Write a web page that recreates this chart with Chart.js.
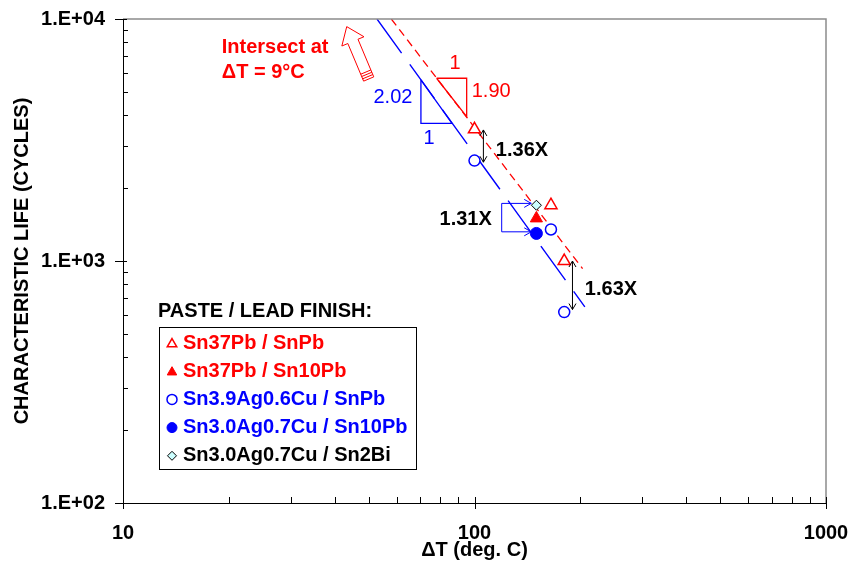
<!DOCTYPE html>
<html>
<head>
<meta charset="utf-8">
<script src="https://cdn.jsdelivr.net/npm/chart.js@4.4.1/dist/chart.umd.min.js"></script>
<style>
  html, body { margin: 0; padding: 0; background: #fff; }
  #wrap { width: 853px; height: 578px; }
</style>
</head>
<body>
<div id="wrap"><canvas id="chart"></canvas></div>
<script>
// axis ticks
const xTicks = [10, 100, 1000];
const yTicks = [100, 1000, 10000];
const yTickLabels = ["1.E+02", "1.E+03", "1.E+04"];

// measured characteristic life vs delta T
const snpbOpenX = [100, 165, 180];
const snpbOpenY = [3500, 1700, 1000];
const snpbFilledX = [150];
const snpbFilledY = [1500];
const sacOpenX = [100, 165, 180];
const sacOpenY = [2600, 1350, 615];
const sacFilledX = [150];
const sacFilledY = [1300];
const sacBiX = [150];
const sacBiY = [1700];

// fitted lines (end points)
const snpbFitX = [58, 203];
const snpbFitY = [10000, 930];
const sacFitX = [52.8, 206];
const sacFitY = [10000, 646];

// slope triangles
const snpbTriX = [78, 95, 95, 78];
const snpbTriY = [5690, 5690, 3950, 5690];
const sacTriX = [70.4, 70.4, 86.3, 70.4];
const sacTriY = [5600, 3702, 3702, 5600];

// ratio arrows and the "intersect" arrow
const ratio136X = [106, 106];
const ratio136Y = [3480, 2560];
const ratio163X = [190, 190];
const ratio163Y = [1000, 630];
const bracket131X = [145, 119.5, 119.5, 145];
const bracket131Y = [1730, 1730, 1320, 1320];
const intersectArrowX = [50, 43.3];
const intersectArrowY = [5650, 9300];

const RED = "#ff0000";
const BLUE = "#0000ff";
const FONT = "'Liberation Sans', Arial, Helvetica, sans-serif";

const pts = (xs, ys) => xs.map((x, i) => ({ x, y: ys[i] }));

function lineSet(xs, ys, color, width, dash) {
    return {
        data: pts(xs, ys),
        showLine: true,
        borderColor: color,
        borderWidth: width,
        borderDash: dash,
        pointRadius: 0,
        fill: false,
        tension: 0,
    };
}

const datasets = [
    {
        label: "Sn37Pb / SnPb",
        data: pts(snpbOpenX, snpbOpenY),
        pointStyle: "triangle",
        pointRadius: 7,
        borderColor: RED,
        backgroundColor: "#ffffff",
        pointBorderWidth: 1.5,
        textColor: RED,
    },
    {
        label: "Sn37Pb / Sn10Pb",
        data: pts(snpbFilledX, snpbFilledY),
        pointStyle: "triangle",
        pointRadius: 7,
        borderColor: RED,
        backgroundColor: RED,
        pointBorderWidth: 1,
        textColor: RED,
    },
    {
        label: "Sn3.9Ag0.6Cu / SnPb",
        data: pts(sacOpenX, sacOpenY),
        pointStyle: "circle",
        pointRadius: 5.5,
        borderColor: BLUE,
        backgroundColor: "#ffffff",
        pointBorderWidth: 1.5,
        textColor: BLUE,
    },
    {
        label: "Sn3.0Ag0.7Cu / Sn10Pb",
        data: pts(sacFilledX, sacFilledY),
        pointStyle: "circle",
        pointRadius: 6,
        borderColor: BLUE,
        backgroundColor: BLUE,
        pointBorderWidth: 1,
        textColor: BLUE,
    },
    {
        label: "Sn3.0Ag0.7Cu / Sn2Bi",
        data: pts(sacBiX, sacBiY),
        pointStyle: "rectRot",
        pointRadius: 5,
        borderColor: "#000000",
        backgroundColor: "#ccffff",
        pointBorderWidth: 1,
        textColor: "#000000",
    },
    lineSet(snpbTriX, snpbTriY, RED, 1.3, []),
    lineSet(sacTriX, sacTriY, BLUE, 1.3, []),
    lineSet(snpbFitX, snpbFitY, RED, 1.3, [8, 5]),
    lineSet(sacFitX, sacFitY, BLUE, 1.4, [42, 14]),
];

function arrowHead(ctx, fx, fy, tx, ty, len, half) {
    const a = Math.atan2(ty - fy, tx - fx);
    ctx.moveTo(tx - len * Math.cos(a) + half * Math.sin(a), ty - len * Math.sin(a) - half * Math.cos(a));
    ctx.lineTo(tx, ty);
    ctx.lineTo(tx - len * Math.cos(a) - half * Math.sin(a), ty - len * Math.sin(a) + half * Math.cos(a));
}

function blockArrow(ctx, tail, tip) {
    const dx = tip.x - tail.x, dy = tip.y - tail.y;
    const len = Math.hypot(dx, dy);
    const ux = dx / len, uy = dy / len;
    const nx = -uy, ny = ux;
    const headLen = 16, headHalf = 12, shaftHalf = 5.5;
    const p = (a, b) => [tail.x + ux * a + nx * b, tail.y + uy * a + ny * b];
    const outline = [
        p(0, -shaftHalf), p(len - headLen, -shaftHalf), p(len - headLen, -headHalf),
        p(len, 0), p(len - headLen, headHalf), p(len - headLen, shaftHalf), p(0, shaftHalf),
    ];
    ctx.beginPath();
    outline.forEach(([x, y], i) => (i ? ctx.lineTo(x, y) : ctx.moveTo(x, y)));
    ctx.closePath();
    ctx.fillStyle = "#ffffff";
    ctx.fill();
    ctx.strokeStyle = RED;
    ctx.lineWidth = 1;
    ctx.stroke();
    ctx.beginPath();
    [2.5, 5, 7.5].forEach((a) => {
        const [x1, y1] = p(a, -shaftHalf);
        const [x2, y2] = p(a, shaftHalf);
        ctx.moveTo(x1, y1);
        ctx.lineTo(x2, y2);
    });
    ctx.stroke();
}

// gray frame plus inside minor ticks and crossing major ticks
const frameAndTicks = {
    id: "frameAndTicks",
    afterDraw(chart) {
        const { ctx, chartArea: a, scales: { x, y } } = chart;
        ctx.save();
        ctx.strokeStyle = "#8c8c8c";
        ctx.lineWidth = 1.5;
        ctx.beginPath();
        ctx.moveTo(a.left, a.top);
        ctx.lineTo(a.right, a.top);
        ctx.lineTo(a.right, a.bottom);
        ctx.stroke();

        ctx.strokeStyle = "#000000";
        ctx.lineWidth = 1;
        ctx.beginPath();
        for (let d = xTicks[0]; d < xTicks[xTicks.length - 1]; d *= 10) {
            for (let m = 2; m <= 9; m++) {
                const px = Math.round(x.getPixelForValue(d * m)) + 0.5;
                ctx.moveTo(px, a.bottom);
                ctx.lineTo(px, a.bottom - 6);
            }
        }
        xTicks.forEach((v) => {
            const px = Math.round(x.getPixelForValue(v)) + 0.5;
            ctx.moveTo(px, a.bottom + 6);
            ctx.lineTo(px, a.bottom - 6);
        });
        for (let d = yTicks[0]; d < yTicks[yTicks.length - 1]; d *= 10) {
            for (let m = 2; m <= 9; m++) {
                const py = Math.round(y.getPixelForValue(d * m)) + 0.5;
                ctx.moveTo(a.left, py);
                ctx.lineTo(a.left + 5, py);
            }
        }
        yTicks.forEach((v) => {
            const py = Math.round(y.getPixelForValue(v)) + 0.5;
            ctx.moveTo(a.left - 8, py);
            ctx.lineTo(a.left + 4, py);
        });
        ctx.stroke();
        ctx.restore();
    },
};

// text notes, ratio arrows, intersect arrow
const notes = [
    { text: "Intersect at", x: 19.1, y: 7590, color: RED, align: "left", bold: true },
    { text: "\u0394T = 9\u00b0C", x: 19.1, y: 5985, color: RED, align: "left", bold: true },
    { text: "2.02", x: 58.6, y: 4760, color: BLUE, align: "center", bold: false },
    { text: "1", x: 74.2, y: 3221, color: BLUE, align: "center", bold: false },
    { text: "1", x: 88, y: 6560, color: RED, align: "center", bold: false },
    { text: "1.90", x: 98.2, y: 5007, color: RED, align: "left", bold: false },
    { text: "1.36X", x: 115, y: 2875, color: "#000000", align: "left", bold: true },
    { text: "1.31X", x: 112, y: 1486, color: "#000000", align: "right", bold: true },
    { text: "1.63X", x: 206, y: 759, color: "#000000", align: "left", bold: true },
];

const annotations = {
    id: "annotations",
    afterDatasetsDraw(chart) {
        const { ctx, scales: { x, y } } = chart;
        const at = (xs, ys, i) => ({ x: x.getPixelForValue(xs[i]), y: y.getPixelForValue(ys[i]) });
        ctx.save();

        ctx.strokeStyle = "#000000";
        ctx.lineWidth = 1;
        [[ratio136X, ratio136Y], [ratio163X, ratio163Y]].forEach(([xs, ys]) => {
            const p0 = at(xs, ys, 0), p1 = at(xs, ys, 1);
            ctx.beginPath();
            ctx.moveTo(p0.x, p0.y);
            ctx.lineTo(p1.x, p1.y);
            arrowHead(ctx, p1.x, p1.y, p0.x, p0.y, 6, 3.5);
            arrowHead(ctx, p0.x, p0.y, p1.x, p1.y, 6, 3.5);
            ctx.stroke();
        });

        ctx.strokeStyle = BLUE;
        ctx.beginPath();
        const b = bracket131X.map((_, i) => at(bracket131X, bracket131Y, i));
        b.forEach((p, i) => (i ? ctx.lineTo(p.x, p.y) : ctx.moveTo(p.x, p.y)));
        arrowHead(ctx, b[1].x, b[1].y, b[0].x, b[0].y, 7, 4);
        arrowHead(ctx, b[2].x, b[2].y, b[3].x, b[3].y, 7, 4);
        ctx.stroke();

        blockArrow(ctx, at(intersectArrowX, intersectArrowY, 0), at(intersectArrowX, intersectArrowY, 1));

        ctx.textBaseline = "middle";
        notes.forEach((n) => {
            ctx.font = `${n.bold ? "bold " : ""}20px ${FONT}`;
            ctx.fillStyle = n.color;
            ctx.textAlign = n.align;
            ctx.fillText(n.text, x.getPixelForValue(n.x), y.getPixelForValue(n.y));
        });
        ctx.restore();
    },
};

// boxed legend below the header line
const legendBox = {
    id: "legendBox",
    afterDraw(chart) {
        const { ctx } = chart;
        ctx.save();
        ctx.font = `bold 20px ${FONT}`;
        ctx.textBaseline = "middle";
        ctx.textAlign = "left";
        ctx.fillStyle = "#000000";
        ctx.fillText("PASTE / LEAD FINISH:", 158, 311);

        ctx.strokeStyle = "#000000";
        ctx.lineWidth = 1;
        ctx.strokeRect(159.5, 327.5, 257, 142);

        chart.data.datasets.slice(0, 5).forEach((ds, i) => {
            const cy = 343 + i * 28.2;
            ctx.fillStyle = ds.backgroundColor;
            ctx.strokeStyle = ds.borderColor;
            ctx.lineWidth = ds.pointBorderWidth;
            const r = ds.pointStyle === "triangle" ? 5.5 : ds.pointStyle === "rectRot" ? 4.5 : 5;
            Chart.helpers.drawPoint(ctx, { pointStyle: ds.pointStyle, radius: r, rotation: 0, borderWidth: ds.pointBorderWidth }, 172, cy + (ds.pointStyle === "triangle" ? 1 : 0));
            ctx.fillStyle = ds.textColor;
            ctx.fillText(ds.label, 183, cy);
        });
        ctx.restore();
    },
};

Chart.defaults.font.family = FONT;
Chart.defaults.color = "#000000";

new Chart(document.getElementById("chart"), {
    type: "scatter",
    data: { datasets },
    options: {
        responsive: true,
        maintainAspectRatio: false,
        animation: false,
        layout: { padding: { top: 19, right: 27, left: 0, bottom: 0 } },
        plugins: {
            legend: { display: false },
            tooltip: { enabled: false },
        },
        scales: {
            x: {
                type: "logarithmic",
                min: 10,
                max: 1000,
                afterBuildTicks: (axis) => { axis.ticks = xTicks.map((v) => ({ value: v })); },
                afterFit: (axis) => {
                    axis.height = 75;
                    axis.paddingLeft = 0;
                    axis.paddingRight = 0;
                },
                grid: { display: false, drawTicks: false },
                border: { display: true, color: "#000000", width: 1 },
                ticks: {
                    autoSkip: false,
                    maxRotation: 0,
                    padding: 18,
                    font: { size: 20, weight: "bold" },
                    callback: (v) => String(v),
                },
                title: {
                    display: true,
                    text: "\u0394T (deg. C)",
                    font: { size: 20, weight: "bold" },
                    padding: { top: 0, bottom: 16 },
                },
            },
            y: {
                type: "logarithmic",
                min: 100,
                max: 10000,
                afterBuildTicks: (axis) => { axis.ticks = yTicks.map((v) => ({ value: v })); },
                afterFit: (axis) => {
                    axis.width = 123;
                    axis.paddingTop = 0;
                    axis.paddingBottom = 0;
                },
                grid: { display: false, drawTicks: false },
                border: { display: true, color: "#000000", width: 1 },
                ticks: {
                    autoSkip: false,
                    padding: 18,
                    font: { size: 20, weight: "bold" },
                    callback: (v) => yTickLabels[yTicks.indexOf(v)] ?? "",
                },
                title: {
                    display: true,
                    text: "CHARACTERISTIC LIFE (CYCLES)",
                    font: { size: 20, weight: "bold" },
                    padding: { top: 10, bottom: 0 },
                },
            },
        },
    },
    plugins: [frameAndTicks, annotations, legendBox],
});
</script>
</body>
</html>
